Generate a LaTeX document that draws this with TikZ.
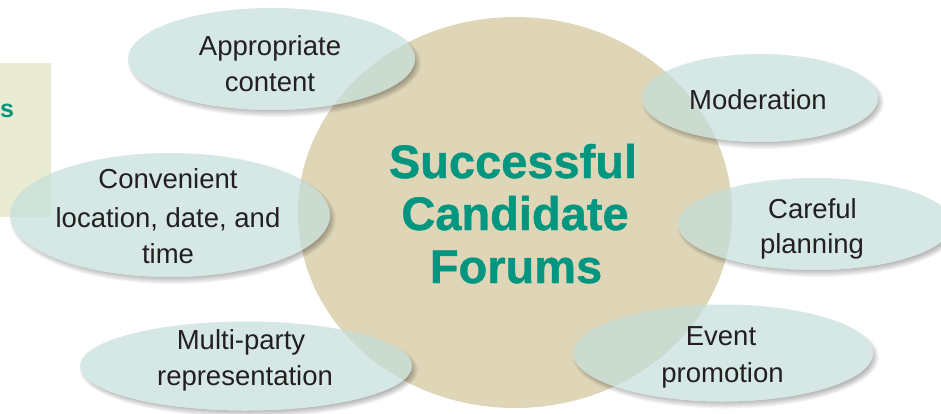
\documentclass[tikz,border=0pt]{standalone}
\usepackage{fontspec}
\setmainfont{Liberation Sans}
\newfontfamily\titlefont[FakeBold=0.9]{Liberation Sans Bold}
\definecolor{bubfill}{RGB}{196,222,219}
\definecolor{discfill}{RGB}{223,214,183}
\definecolor{forumteal}{RGB}{0,150,128}
\definecolor{ink}{RGB}{35,31,32}
\definecolor{panelfill}{RGB}{233,236,210}
\tikzset{
  lbl/.style={font=\fontsize{27.5}{33}\selectfont, text=ink, inner sep=0pt, anchor=base},
  ttl/.style={font=\titlefont\fontsize{47}{52}\selectfont, text=forumteal, inner sep=0pt, anchor=base},
  bubble/.style={fill=bubfill, fill opacity=0.7},
}
\newcommand\bubblewithshadow[3]{%
  \begin{scope}[even odd rule]
    \clip (-20,-20) rectangle (980,440) (#1) ellipse [x radius=#2pt, y radius=#3pt];
    \foreach \k in {0,...,7} {
      \fill[black, opacity=0.04, shift={(3,4)}] (#1) ellipse [x radius={(#2+3-\k)*1pt}, y radius={(#3+3-\k)*1pt}];
    }
  \end{scope}
  \fill[bubble] (#1) ellipse [x radius=#2pt, y radius=#3pt];
}
\begin{document}
\begin{tikzpicture}[x=1pt, y=-1pt]
  \useasboundingbox (0,0) rectangle (941,413);
  % side panel
  \fill[panelfill] (0,63) rectangle (51,217);
  \node[font=\bfseries\fontsize{25}{30}\selectfont, text=forumteal, inner sep=0pt, anchor=base west] (panels) at (0,117) {s};
  % central disc
  \fill[discfill] (515,212.5) ellipse [x radius=217pt, y radius=195.5pt];
  \node[ttl] (t1) at (513,178) {Successful};
  \node[ttl] (t2) at (515,230) {Candidate};
  \node[ttl] (t3) at (516,283) {Forums};
  % bubbles
  \bubblewithshadow{271.5,59}{143.5}{51}
  \bubblewithshadow{760,98}{118}{44}
  \bubblewithshadow{815,224}{137}{46}
  \bubblewithshadow{723,353}{150}{48.5}
  \bubblewithshadow{246,366}{166}{44.5}
  \bubblewithshadow{170,215}{160}{62}
  % labels
  \node[lbl] (app1) at (270,55) {Appropriate};
  \node[lbl] (app2) at (270,91) {content};
  \node[lbl] (mod) at (758,109) {Moderation};
  \node[lbl] (car1) at (812.5,218) {Careful};
  \node[lbl] (car2) at (812,253) {planning};
  \node[lbl] (evt1) at (721,345) {Event};
  \node[lbl] (evt2) at (722.5,382) {promotion};
  \node[lbl] (mul1) at (241,349) {Multi-party};
  \node[lbl] (mul2) at (245,385) {representation};
  \node[lbl] (con1) at (168,188) {Convenient};
  \node[lbl] (con2) at (168,227) {location, date, and};
  \node[lbl] (con3) at (168,263) {time};
\end{tikzpicture}
\end{document}
